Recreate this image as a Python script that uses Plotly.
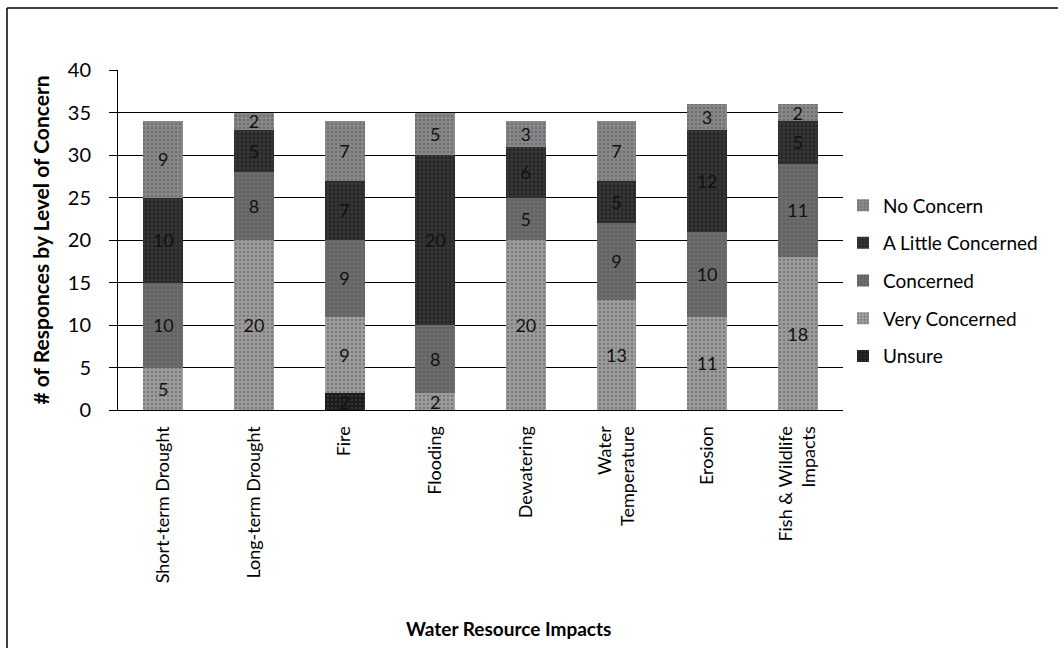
import plotly.graph_objects as go

categories = ["Short-term Drought", "Long-term Drought", "Fire", "Flooding",
              "Dewatering", "Water<br>Temperature", "Erosion", "Fish & Wildlife<br>Impacts"]

unsure = [0, 0, 2, 0, 0, 0, 0, 0]
very_concerned = [5, 20, 9, 2, 20, 13, 11, 18]
concerned = [10, 8, 9, 8, 5, 9, 10, 11]
a_little_concerned = [10, 5, 7, 20, 6, 5, 12, 5]
no_concern = [9, 2, 7, 5, 3, 7, 3, 2]

series = [
    ("Unsure", unsure, "#1c1c1c"),
    ("Very Concerned", very_concerned, "#9c9c9c"),
    ("Concerned", concerned, "#6c6c6c"),
    ("A Little Concerned", a_little_concerned, "#2a2a2a"),
    ("No Concern", no_concern, "#888888"),
]

FONT = "Lato"

fig = go.Figure()
for i, (name, vals, col) in enumerate(series):
    fig.add_trace(go.Bar(
        x=categories, y=vals, name=name, legendgroup=name,
        legendrank=1000 - i,
        marker=dict(color=col, line=dict(width=0),
                    pattern=dict(shape=".", fgcolor="#505050", size=4, solidity=0.25)),
        text=[str(v) if v else "" for v in vals],
        textposition="inside", insidetextanchor="middle", textangle=0,
        constraintext="none",
        textfont=dict(family=FONT, size=18, color="#111111"),
    ))

L, R, T, B = 118, 215, 70, 238
W, H = 1058, 648
pw, ph = W - L - R, H - T - B

fig.update_layout(
    width=W, height=H,
    barmode="stack", bargap=0.56,
    margin=dict(l=L, r=R, t=T, b=B),
    plot_bgcolor="white", paper_bgcolor="white",
    font=dict(family=FONT, size=18, color="black"),
    legend=dict(traceorder="grouped", x=1.0, xanchor="left", y=0.38, yanchor="middle",
                font=dict(family=FONT, size=19, color="black"),
                itemwidth=30, tracegroupgap=10, bgcolor="rgba(0,0,0,0)"),
    showlegend=True,
)
fig.update_xaxes(
    tickangle=-90, showline=True, linecolor="black", linewidth=1,
    tickfont=dict(family=FONT, size=18),
    ticks="outside", ticklen=8, tickcolor="white",
)
fig.update_yaxes(
    range=[0, 40], dtick=5, showline=True, linecolor="black", linewidth=1,
    gridcolor="black", gridwidth=1, ticks="outside", ticklen=8, tickcolor="black",
    ticklabelstandoff=14,
    tickfont=dict(family=FONT, size=20),
    title=dict(text="<b># of Responces by Level of Concern</b>", font=dict(family=FONT, size=21), standoff=12),
    zeroline=False,
)

# x-axis title (placed as in the reference, slightly right of plot centre)
fig.add_annotation(text="<b>Water Resource Impacts</b>", xref="paper", yref="paper",
                   x=(508 - L) / pw, y=(H - B - 628) / ph, xanchor="center", yanchor="middle",
                   showarrow=False, font=dict(family=FONT, size=19, color="black"))

# outer frame (only the top and left edges are visible in the reference)
fx0, fy_top = (7 - L) / pw, (H - B - 8) / ph
fig.add_shape(type="line", xref="paper", yref="paper",
              x0=fx0, x1=(W + 20 - L) / pw, y0=fy_top, y1=fy_top,
              line=dict(color="black", width=1.5))
fig.add_shape(type="line", xref="paper", yref="paper",
              x0=fx0, x1=fx0, y0=fy_top, y1=(H - B - H - 20) / ph,
              line=dict(color="black", width=1.5))

fig.write_html("out.html", config={"displayModeBar": False},
               post_script="document.body.style.margin='0';document.body.style.overflow='hidden';")
